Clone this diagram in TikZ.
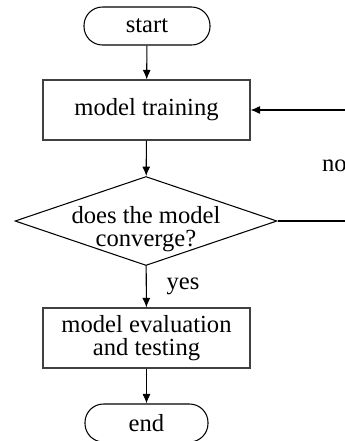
\documentclass[tikz,border=0pt]{standalone}
\usepackage{fontspec}
\setmainfont{Liberation Serif}
\usetikzlibrary{shapes,arrows.meta,positioning,calc}
\tikzset{
    terminal/.style={rectangle, draw, line width=0.6pt, rounded corners=0.37cm, minimum height=0.76cm, inner sep=0pt},
    process/.style={rectangle, draw=black!75, line width=0.6pt, minimum width=4.14cm, minimum height=1.2cm, align=center, inner sep=0pt},
    decision/.style={diamond, draw, line width=0.6pt, minimum width=5.24cm, minimum height=1.78cm, inner sep=0pt},
    flowline/.style={line width=0.6pt, -{Latex[length=1.9mm,width=1.6mm]}}
}

\begin{document}
\begin{tikzpicture}[font=\fontsize{14}{13.4}\selectfont]
    \useasboundingbox (0,0) rectangle (6.9,-8.82);

    % Start
    \node[terminal, minimum width=2.52cm] (start) at (2.94,-0.52) {start};

    % Training
    \node[process] (train) at (2.93,-2.2) {model training};

    % Convergence check
    \node[decision, label={[yshift=-0.16cm, align=center]center:{does the model\\converge?}}] (conv) at (2.92,-4.42) {};

    % Evaluation
    \node[process] (eval) at (2.93,-6.76) {model evaluation\\and testing};

    % End
    \node[terminal, minimum width=2.46cm] (end) at (2.93,-8.46) {end};

    % Loop back
    \coordinate (turnlow) at (7.06,-4.42);
    \coordinate (turnhigh) at (7.06,-2.2);

    \draw[flowline] (start) -- (train);
    \draw[flowline] (train) -- (conv);
    \draw[flowline] (conv) -- node[right=0.28cm] {yes} (eval);
    \draw[flowline] (eval) -- (end);
    \draw[flowline] (conv.east) -- (turnlow) -- node[left] {no} (turnhigh) -- (train.east);
\end{tikzpicture}
\end{document}
